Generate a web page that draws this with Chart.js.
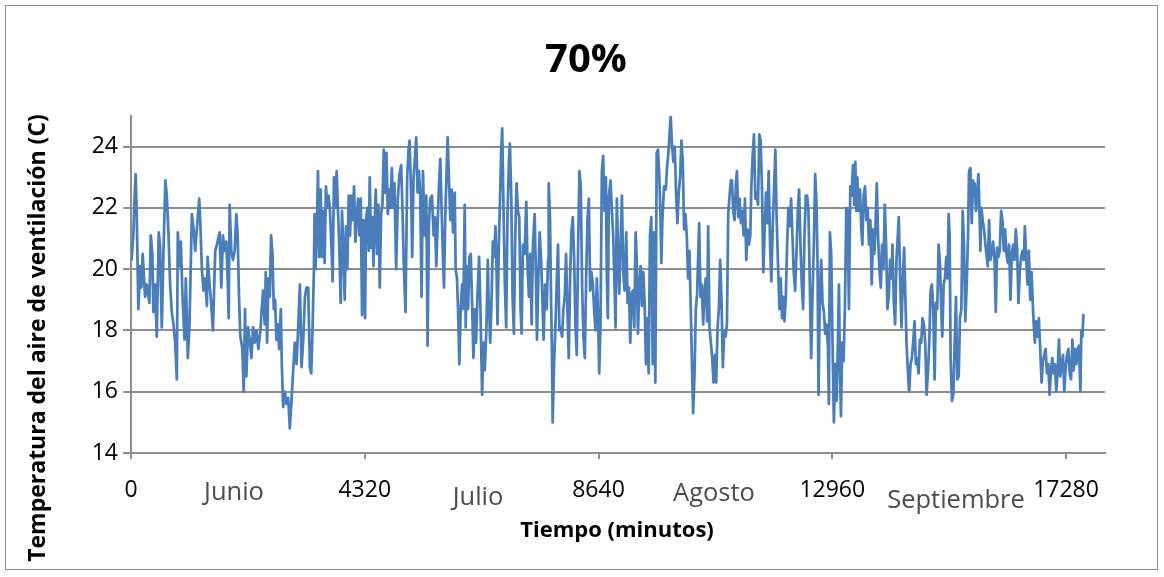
<!DOCTYPE html>
<html>
<head>
<meta charset="utf-8">
<style>
  body { margin: 0; background: #fff; }
</style>
</head>
<body>
<canvas id="tempChart" width="1164" height="577"></canvas>

<script src="https://cdn.jsdelivr.net/npm/chart.js"></script>
<script>
  const titulo = '70%';
  const tituloX = 'Tiempo (minutos)';
  const tituloY = 'Temperatura del aire de ventilación (C)';
  const ticksX = [0, 4320, 8640, 12960, 17280];
  const ticksY = [14, 16, 18, 20, 22, 24];
  const meses = ['Junio', 'Julio', 'Agosto', 'Septiembre'];

  // tiempo (min) y temperatura (C) del aire de ventilación
  const minutos = [
    10, 43, 68, 86, 105, 136, 167, 192, 216, 260, 290, 340, 365, 395, 414, 445, 476, 513, 538, 569,
    599, 636, 661, 692, 723, 754, 785, 816, 847, 865, 896, 921, 952, 989, 1013, 1050, 1081, 1125, 1156, 1187,
    1217, 1261, 1279, 1310, 1341, 1372, 1403, 1415, 1452, 1477, 1514, 1557, 1588, 1638, 1669, 1699, 1730, 1761, 1786, 1805,
    1823, 1854, 1885, 1916, 1947, 1971, 1996, 2021, 2058, 2083, 2107,
    2132, 2163, 2194, 2225, 2256, 2287, 2317, 2354, 2392, 2416, 2441, 2472, 2490, 2515, 2540, 2565, 2589, 2614, 2639, 2663,
    2688, 2713, 2738, 2769, 2787, 2812, 2843, 2874, 2905, 2935, 2966, 2997, 3028, 3059, 3090, 3121, 3152, 3183, 3214, 3244,
    3275, 3306, 3331, 3356, 3380, 3393, 3411, 3436, 3455, 3479, 3504, 3529, 3553, 3578, 3603, 3627, 3652, 3677, 3708, 3726,
    3751, 3776, 3801, 3825, 3850, 3875, 3899, 3924, 3949, 3974, 3998, 4023, 4048, 4072, 4097, 4122, 4147, 4171, 4196, 4221,
    4246, 4270, 4295, 4326, 4344, 4369,
    4375, 4394, 4412, 4437, 4462, 4480, 4505, 4523, 4548, 4573, 4597, 4622, 4647, 4672, 4696, 4721, 4746, 4771, 4795, 4820,
    4845, 4869, 4900, 4931, 4962, 4993, 5018, 5042, 5073, 5104, 5129, 5148, 5178, 5197, 5222, 5246, 5271, 5296, 5321, 5345,
    5370, 5395, 5426, 5457, 5481, 5506, 5531, 5562, 5593, 5617, 5642, 5667, 5691, 5716, 5741, 5765, 5784, 5809, 5833, 5852,
    5877, 5902, 5926, 5951, 5982, 6000, 6025, 6044, 6068, 6093, 6118, 6142, 6167, 6186, 6204, 6229, 6254, 6278, 6303, 6328,
    6353, 6377, 6402, 6433, 6458, 6489, 6513, 6538, 6569, 6594, 6612,
    6619, 6638, 6662, 6687, 6712, 6736, 6755, 6773, 6798, 6823, 6842, 6860, 6885, 6909, 6934, 6959, 6984, 7002, 7027, 7052,
    7076, 7101, 7126, 7150, 7175, 7200, 7218, 7243, 7274, 7305, 7330, 7354, 7379, 7404, 7428, 7460, 7484, 7503, 7527, 7552,
    7577, 7601, 7626, 7651, 7682, 7707, 7719, 7744, 7762, 7781, 7793, 7818, 7843, 7867, 7892, 7917, 7941, 7966, 7991, 8016,
    8040, 8065, 8090, 8115, 8139, 8164, 8189, 8213, 8238, 8263, 8288, 8312, 8337, 8362, 8387, 8411, 8436, 8461, 8485, 8510,
    8535, 8559, 8584, 8609, 8634, 8652, 8677, 8702, 8726, 8751, 8776, 8794, 8813, 8831, 8856,
    8862, 8887, 8911, 8936, 8955, 8979, 9004, 9023, 9047, 9072, 9097, 9122, 9152, 9177, 9202, 9227, 9251, 9276, 9301, 9326,
    9344, 9369, 9394, 9418, 9443, 9468, 9492, 9517, 9542, 9567, 9591, 9616, 9641, 9665, 9690, 9715, 9740, 9764, 9783, 9801,
    9820, 9851, 9882, 9906, 9931, 9956, 9974, 9999, 10024, 10049, 10073, 10098, 10123, 10147, 10172, 10197, 10222, 10246, 10271, 10296,
    10320, 10345, 10370, 10388, 10413, 10438, 10463, 10481, 10500, 10524, 10549, 10574, 10599, 10623, 10648, 10666, 10691, 10716, 10741, 10766,
    10790, 10815, 10840, 10864, 10889, 10914, 10938, 10963, 10988, 11013, 11037, 11062, 11087,
    11105, 11130, 11154, 11179, 11198, 11222, 11247, 11272, 11297, 11321, 11346, 11371, 11395, 11420, 11445, 11463, 11488, 11513, 11538, 11562,
    11587, 11612, 11636, 11661, 11686, 11711, 11735, 11760, 11785, 11810, 11834, 11859, 11884, 11908, 11933, 11958, 11983, 12007, 12032, 12057,
    12075, 12100, 12125, 12149, 12174, 12199, 12224, 12248, 12273, 12298, 12322, 12347, 12372, 12397, 12421, 12446, 12471, 12496, 12520, 12545,
    12570, 12594, 12619, 12644, 12669, 12687, 12706, 12730, 12755, 12780, 12805, 12829, 12854, 12879, 12897, 12916, 12940, 12965, 12990, 13015,
    13039, 13064, 13083, 13101, 13120, 13144, 13169, 13194, 13219, 13243, 13268, 13293, 13317, 13342,
    13349, 13368, 13386, 13405, 13423, 13448, 13473, 13497, 13516, 13540, 13565, 13590, 13615, 13639, 13664, 13689, 13714, 13738, 13757, 13782,
    13806, 13831, 13856, 13880, 13905, 13930, 13955, 13979, 14004, 14029, 14053, 14072, 14097, 14122, 14146, 14171, 14189, 14214, 14239, 14264,
    14288, 14313, 14332, 14356, 14381, 14406, 14431, 14455, 14480, 14505, 14529, 14554, 14579, 14604, 14628, 14653, 14678, 14702, 14727, 14752,
    14777, 14801, 14826, 14851, 14875, 14900, 14925, 14950, 14974, 14993, 15018, 15042, 15067, 15092, 15110, 15129, 15147, 15172, 15197, 15222,
    15246, 15271, 15296, 15320, 15345, 15370, 15394, 15419, 15444, 15469, 15487, 15512, 15537, 15561, 15586,
    15592, 15617, 15641, 15660, 15678, 15697, 15716, 15740, 15765, 15790, 15814, 15833, 15858, 15882, 15907, 15932, 15957, 15981, 16006, 16031,
    16055, 16080, 16105, 16130, 16154, 16179, 16204, 16228, 16253, 16278, 16303, 16327, 16352, 16377, 16401, 16426, 16451, 16476, 16500, 16519,
    16543, 16568, 16593, 16618, 16643, 16667, 16686, 16704, 16729, 16754, 16778, 16803, 16828, 16853, 16877, 16902, 16927, 16952, 16976, 17001,
    17026, 17050, 17075, 17100, 17125, 17149, 17174, 17199, 17224, 17248, 17273, 17298, 17322, 17347, 17372, 17397, 17421, 17446, 17471, 17496,
    17520, 17545, 17563, 17582, 17601
  ];
  const temperatura = [
    20.3, 21.1, 22.4, 23.1, 21.9, 18.7, 20.1, 19.4, 20.5, 19.1, 19.5, 18.9, 21.1, 20.5, 18.6, 19.5, 17.8, 21.2, 20.7, 18.1,
    20.5, 22.9, 22.4, 21.2, 19.5, 18.6, 18.2, 17.6, 16.4, 21.2, 20.1, 20.9, 19.1, 17.7, 19.7, 17.1, 18.2, 21.8, 21.3, 20.6,
    21.3, 22.3, 21.6, 20.0, 19.3, 19.7, 18.8, 20.4, 19.5, 19.0, 18.0, 20.6, 20.8, 21.2, 19.4, 21.1, 20.6, 20.9, 19.7, 18.4,
    22.1, 20.6, 20.3, 20.6, 21.8, 21.1, 19.1, 17.8, 17.4, 16.0, 18.7,
    16.5, 18.1, 17.7, 17.1, 18.1, 17.6, 18.0, 17.4, 18.0, 18.7, 19.3, 18.2, 19.9, 17.6, 19.7, 19.1, 21.1, 20.5, 18.7, 19.0,
    17.7, 18.2, 17.4, 18.7, 16.9, 15.5, 16.0, 15.6, 15.8, 14.8, 15.7, 16.7, 17.6, 16.9, 18.1, 19.5, 16.8, 17.7, 19.1, 19.4,
    19.4, 16.8, 16.6, 18.1, 20.0, 21.8, 20.0, 21.4, 23.2, 20.4, 22.6, 20.4, 21.9, 20.2, 22.7, 22.0, 22.4, 21.9, 20.6, 19.6,
    23.0, 22.0, 23.2, 21.9, 20.7, 18.9, 21.9, 20.8, 19.0, 21.4, 20.0, 22.4, 21.1, 22.4, 21.6, 22.7, 20.9, 21.6, 22.3, 21.1,
    22.3, 18.5, 21.6, 18.4, 21.6, 22.0,
    21.9, 20.6, 23.0, 20.7, 21.7, 20.1, 21.6, 22.6, 20.5, 22.1, 19.4, 21.8, 22.1, 23.9, 22.5, 23.8, 21.8, 22.6, 22.0, 23.3,
    22.0, 22.8, 20.0, 22.3, 23.1, 23.4, 21.9, 20.1, 18.6, 23.0, 23.9, 24.2, 22.4, 20.4, 23.0, 23.6, 24.3, 22.5, 23.2, 22.4,
    19.1, 23.2, 21.1, 22.4, 17.5, 21.5, 22.3, 22.4, 21.1, 21.7, 20.1, 21.5, 22.7, 23.6, 21.9, 20.4, 19.4, 21.8, 23.2, 24.3,
    22.9, 21.6, 22.6, 21.2, 22.5, 20.0, 19.7, 18.7, 16.9, 18.7, 19.5, 18.7, 22.1, 18.1, 20.1, 18.7, 20.4, 20.5, 18.9, 17.1,
    18.7, 17.6, 19.1, 20.4, 18.7, 15.9, 17.6, 16.7, 18.1, 20.3, 18.7,
    18.7, 17.6, 18.9, 20.9, 20.4, 21.4, 20.0, 18.2, 20.8, 22.5, 23.9, 24.6, 21.9, 19.5, 18.1, 21.9, 23.5, 24.1, 22.4, 19.1,
    17.9, 21.1, 22.8, 21.9, 21.7, 18.7, 17.9, 20.8, 20.5, 22.2, 20.0, 19.1, 20.5, 18.2, 20.8, 21.8, 19.7, 17.7, 19.7, 21.2,
    20.4, 19.1, 17.7, 19.5, 18.7, 20.3, 22.8, 21.6, 19.1, 17.1, 15.0, 16.9, 18.1, 19.5, 20.8, 18.0, 18.1, 17.8, 18.7, 19.1,
    20.5, 18.7, 17.1, 19.7, 21.2, 21.7, 20.4, 18.2, 17.2, 20.8, 23.2, 22.7, 19.4, 17.8, 17.1, 19.7, 21.6, 22.3, 19.3, 19.9,
    19.5, 18.7, 18.0, 19.7, 18.4, 16.6, 18.2, 23.2, 23.7, 21.9, 23.0, 19.7, 18.4, 22.4, 22.8,
    22.9, 21.9, 21.1, 19.5, 18.1, 22.3, 20.3, 19.2, 20.8, 22.4, 19.9, 19.3, 21.2, 18.9, 19.4, 17.6, 19.2, 19.3, 18.1, 21.2,
    20.4, 17.9, 19.5, 20.1, 18.8, 19.9, 18.9, 16.9, 18.4, 16.6, 21.1, 21.7, 16.9, 21.2, 16.3, 23.8, 23.9, 23.0, 21.9, 20.2,
    21.6, 22.7, 22.6, 23.3, 23.8, 24.5, 25.0, 24.0, 23.5, 24.0, 22.5, 21.5, 22.5, 23.0, 24.2, 23.5, 21.3, 21.8, 21.1, 19.7,
    20.6, 18.7, 16.7, 15.3, 16.5, 18.7, 19.2, 20.4, 21.5, 19.1, 19.5, 18.2, 19.3, 19.7, 18.3, 21.4, 18.1, 17.6, 17.1, 16.3,
    17.2, 16.3, 18.1, 18.7, 20.3, 18.9, 16.8, 18.0, 17.8, 18.2, 21.8, 22.4, 22.9,
    22.9, 21.9, 21.6, 22.8, 23.2, 21.7, 22.3, 21.5, 21.9, 21.1, 22.3, 20.3, 21.3, 20.8, 21.1, 22.6, 23.7, 24.4, 22.3, 22.5,
    22.1, 24.4, 24.2, 22.6, 19.9, 21.3, 22.5, 21.5, 23.2, 20.8, 19.6, 21.4, 22.6, 23.9, 21.6, 20.1, 18.7, 19.7, 18.4, 19.1,
    18.3, 19.0, 20.8, 22.0, 21.4, 22.3, 21.1, 19.9, 19.3, 20.5, 21.9, 22.6, 20.8, 19.5, 18.7, 21.1, 22.4, 22.4, 21.9, 19.5,
    17.1, 19.1, 20.8, 23.1, 22.1, 20.3, 15.9, 19.2, 20.3, 18.9, 18.6, 17.9, 18.2, 17.5, 15.6, 21.2, 20.5, 17.6, 15.0, 16.9,
    15.7, 17.6, 19.5, 16.8, 15.2, 17.6, 17.0, 18.8, 22.0, 21.9, 18.7, 22.7, 22.4, 23.4,
    23.1, 22.1, 23.5, 21.9, 23.0, 21.9, 22.6, 21.3, 20.8, 22.4, 22.7, 21.6, 22.0, 20.8, 21.6, 19.5, 21.3, 20.5, 21.3, 22.8,
    21.1, 20.0, 19.4, 20.8, 20.0, 22.1, 20.8, 18.7, 19.1, 20.3, 19.7, 20.8, 18.9, 18.2, 20.3, 21.1, 21.7, 19.7, 18.1, 19.7,
    20.7, 18.9, 17.6, 16.7, 16.0, 16.9, 17.1, 17.6, 18.3, 16.9, 17.1, 16.6, 17.7, 17.6, 18.4, 18.2, 17.6, 15.9, 16.6, 17.6,
    19.3, 19.5, 18.7, 16.4, 18.9, 18.7, 20.8, 20.2, 18.7, 17.8, 19.5, 19.7, 20.4, 19.7, 21.8, 21.1, 17.1, 15.7, 15.9, 17.6,
    19.1, 16.4, 16.5, 18.4, 18.7, 21.9, 20.8, 18.3, 19.5, 21.1, 23.2, 23.3, 21.5, 22.9, 22.5,
    22.8, 21.9, 22.5, 23.1, 22.1, 20.6, 22.0, 21.6, 21.3, 20.8, 20.4, 20.1, 21.6, 20.3, 20.5, 20.9, 20.4, 18.6, 20.7, 20.4,
    20.6, 21.9, 21.6, 20.6, 21.3, 20.5, 20.2, 20.8, 19.0, 20.5, 20.8, 20.3, 21.3, 20.6, 18.9, 20.0, 20.4, 20.6, 20.3, 21.4,
    20.4, 19.5, 20.6, 19.0, 19.9, 18.8, 18.1, 17.6, 18.3, 17.8, 18.4, 17.4, 16.3, 17.0, 17.2, 17.4, 16.6, 16.9, 15.9, 16.7,
    17.1, 16.6, 16.9, 16.0, 16.7, 17.7, 16.5, 16.9, 17.2, 16.0, 16.8, 17.2, 17.4, 16.6, 16.4, 17.7, 16.7, 17.4, 16.9, 17.4,
    17.5, 16.0, 18.0, 17.8, 18.5
  ];

  const gris = '#8e8e8e';
  const fuente = '"Open Sans", "Liberation Sans", sans-serif';

  // título, nombres de los ejes, meses y marco exterior
  const textos = {
    id: 'textos',
    afterDraw(chart) {
      const ctx = chart.ctx;
      ctx.save();
      ctx.strokeStyle = gris;
      ctx.lineWidth = 1;
      ctx.strokeRect(5.5, 5.5, 1152, 564);

      ctx.fillStyle = '#000';
      ctx.textAlign = 'center';
      ctx.textBaseline = 'alphabetic';
      ctx.font = 'bold 40px ' + fuente;
      ctx.fillText(titulo, 586, 72);

      ctx.font = 'bold 22px ' + fuente;
      ctx.fillText(tituloX, 617, 537);

      ctx.save();
      ctx.translate(38, 338);
      ctx.rotate(-Math.PI / 2);
      ctx.textBaseline = 'middle';
      ctx.font = 'bold 23px ' + fuente;
      ctx.fillText(tituloY, 0, 0);
      ctx.restore();

      ctx.fillStyle = '#4d4d4d';
      ctx.font = '25.5px ' + fuente;
      const pos = [[234, 500], [478, 505], [714, 501], [956, 508]];
      meses.forEach((m, i) => ctx.fillText(m, pos[i][0], pos[i][1]));
      ctx.restore();
    }
  };

  new Chart(document.getElementById('tempChart'), {
    type: 'line',
    data: {
      datasets: [{
        data: minutos.map((m, i) => ({ x: m, y: temperatura[i] })),
        borderColor: '#4a7ebb',
        borderWidth: 2.75,
        borderJoinStyle: 'round',
        borderCapStyle: 'round',
        pointRadius: 0,
        fill: false,
        tension: 0
      }]
    },
    options: {
      responsive: false,
      animation: false,
      layout: { padding: { top: 116, right: 59, left: 0, bottom: 0 } },
      plugins: {
        legend: { display: false },
        tooltip: { enabled: false }
      },
      scales: {
        x: {
          type: 'linear',
          min: 0,
          max: 18000,
          afterFit: s => { s.height = 124; },
          afterBuildTicks: s => { s.ticks = ticksX.map(v => ({ value: v })); },
          grid: { drawOnChartArea: false, drawTicks: true, tickLength: 6, color: gris, lineWidth: 2 },
          border: { color: gris, width: 2 },
          ticks: {
            color: '#000',
            padding: 18,
            maxRotation: 0,
            font: { family: fuente, size: 23 },
            callback: v => String(v)
          }
        },
        y: {
          min: 14,
          max: 25,
          afterFit: s => { s.width = 131; },
          afterBuildTicks: s => { s.ticks = ticksY.map(v => ({ value: v })); },
          grid: { color: gris, lineWidth: 2, tickLength: 8 },
          border: { color: gris, width: 2 },
          ticks: { color: '#000', padding: 5, font: { family: fuente, size: 23 } }
        }
      }
    },
    plugins: [textos]
  });
</script>
</body>
</html>
